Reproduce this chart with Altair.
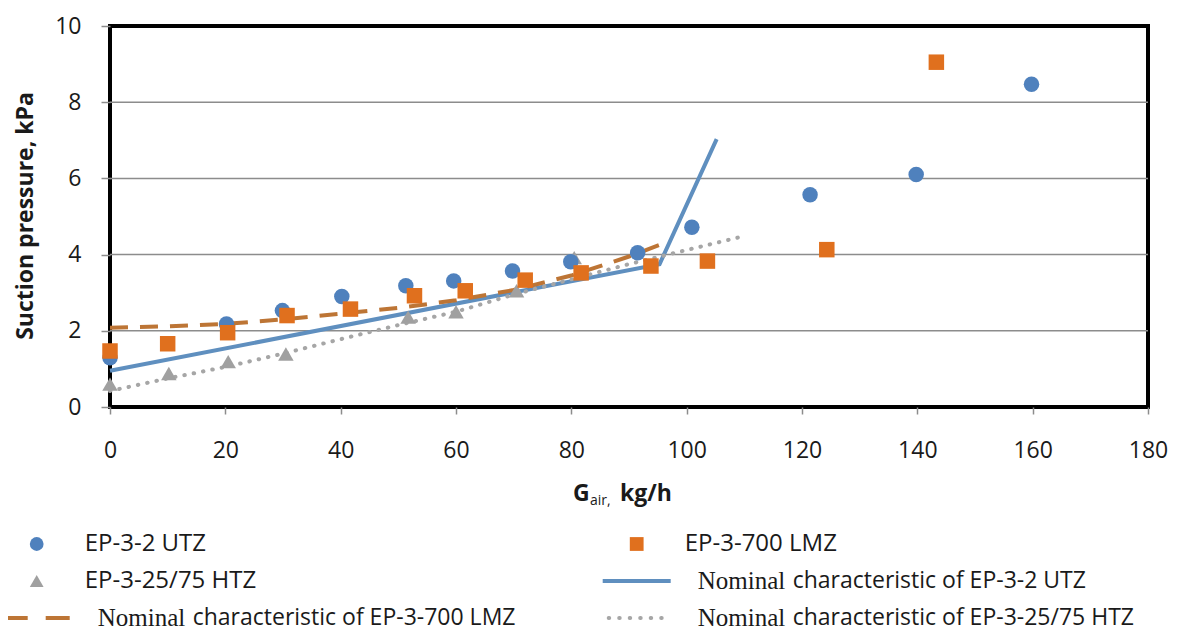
import altair as alt
import pandas as pd

# ---------------- values ----------------
# measured points
utz_x = [0, 20.2, 29.9, 40.2, 51.3, 59.6, 69.8, 79.9, 91.5, 100.9, 121.4, 139.8, 159.8]
utz_y = [1.29, 2.18, 2.53, 2.90, 3.18, 3.31, 3.57, 3.81, 4.05, 4.72, 5.57, 6.10, 8.47]

lmz_x = [0, 10.0, 20.4, 30.7, 41.7, 52.8, 61.6, 72.0, 81.7, 93.8, 103.6, 124.3, 143.3]
lmz_y = [1.47, 1.66, 1.95, 2.40, 2.57, 2.92, 3.05, 3.33, 3.52, 3.70, 3.83, 4.13, 9.05]

htz_x = [0, 10.2, 20.5, 30.5, 51.7, 60.0, 70.5, 80.5]
htz_y = [0.60, 0.88, 1.19, 1.39, 2.36, 2.50, 3.05, 3.92]

# nominal characteristics
nom_utz_x = [0, 95.3, 105.2]
nom_utz_y = [0.95, 3.75, 7.03]

nom_lmz_x = [0, 10, 20, 30, 40, 50, 60, 70, 80, 90, 97]
nom_lmz_y = [2.08, 2.12, 2.18, 2.30, 2.45, 2.60, 2.80, 3.07, 3.45, 3.95, 4.35]

nom_htz_x = [0, 10, 20, 30, 40, 50, 60, 70, 80, 90, 100, 109]
nom_htz_y = [0.42, 0.75, 1.05, 1.40, 1.78, 2.15, 2.50, 2.95, 3.35, 3.75, 4.12, 4.45]

series_names = [
    "EP-3-2 UTZ",
    "EP-3-700 LMZ",
    "EP-3-25/75 HTZ",
    "Nominal characteristic of EP-3-2 UTZ",
    "Nominal characteristic of EP-3-700 LMZ",
    "Nominal characteristic of EP-3-25/75 HTZ",
]
series_colors = ["#4f81bd", "#e0701e", "#a0a0a0", "#5f8fbf", "#bd7535", "#a6a6a6"]
series_shapes = ["circle", "square", "triangle-up", "stroke", "stroke", "stroke"]
series_kind = ["point", "point", "point", "line", "line", "line"]

# legend grid (column / row of every entry)
legend_col = [0, 1, 0, 1, 0, 1]
legend_row = [0, 0, 1, 1, 2, 2]

x_ticks = [0, 20, 40, 60, 80, 100, 120, 140, 160, 180]
y_ticks = [0, 2, 4, 6, 8, 10]
grid_values = [2, 4, 6, 8]

# ---------------- tables ----------------
def table(name, xs, ys):
    return pd.DataFrame({"series": name, "x": xs, "y": ys})

points_df = pd.concat([
    table(series_names[2], htz_x, htz_y),
    table(series_names[0], utz_x, utz_y),
    table(series_names[1], lmz_x, lmz_y),
], ignore_index=True)

lines_df = pd.concat([
    table(series_names[3], nom_utz_x, nom_utz_y),
    table(series_names[4], nom_lmz_x, nom_lmz_y),
    table(series_names[5], nom_htz_x, nom_htz_y),
], ignore_index=True)

legend_df = pd.DataFrame({
    "series": series_names,
    "col": legend_col,
    "row": legend_row,
    "kind": series_kind,
})

FONT = "Open Sans"
TXT = "#1a1a1a"

color_scale = alt.Scale(domain=series_names, range=series_colors)
shape_scale = alt.Scale(domain=series_names, range=series_shapes)
x_scale = alt.Scale(domain=[0, 180], nice=False, zero=False)
y_scale = alt.Scale(domain=[0, 10], nice=False)

x_axis = alt.Axis(values=x_ticks, title=None, grid=False, domain=False, tickSize=7,
                  labelPadding=25, labelFlush=False, format="d")
y_axis = alt.Axis(values=y_ticks, title=None, grid=False, domain=False, tickSize=9,
                  labelPadding=20, labelFlush=False, format="d")

X = alt.X("x:Q", scale=x_scale, axis=x_axis)
Y = alt.Y("y:Q", scale=y_scale, axis=y_axis)
C = alt.Color("series:N", scale=color_scale, legend=None)

# ---------------- main plot ----------------
grid = alt.Chart(pd.DataFrame({"y": grid_values})).mark_rule(
    color="#8c8c8c", strokeWidth=1.5
).encode(y=Y)

line_utz = alt.Chart(lines_df).transform_filter(
    alt.datum.series == series_names[3]
).mark_line(strokeWidth=4, strokeCap="butt").encode(x=X, y=Y, color=C)

line_lmz = alt.Chart(lines_df).transform_filter(
    alt.datum.series == series_names[4]
).mark_line(strokeWidth=4, strokeDash=[18, 12], strokeCap="butt").encode(x=X, y=Y, color=C)

line_htz = alt.Chart(lines_df).transform_filter(
    alt.datum.series == series_names[5]
).mark_line(strokeWidth=4, strokeDash=[0.5, 9], strokeCap="round").encode(x=X, y=Y, color=C)

points = alt.Chart(points_df).mark_point(filled=True, size=240, opacity=1).encode(
    x=X, y=Y, color=C, shape=alt.Shape("series:N", scale=shape_scale, legend=None)
)

one = pd.DataFrame({"a": [0]})
y_title = alt.Chart(one).mark_text(
    text="Suction pressure, kPa", angle=270, font=FONT, fontSize=23, fontWeight="bold",
    align="center", baseline="middle", color=TXT
).encode(x=alt.value(-84), y=alt.value(190))

x_title_g = alt.Chart(one).mark_text(
    text="G", font=FONT, fontSize=23, fontWeight="bold", align="left",
    baseline="alphabetic", color=TXT
).encode(x=alt.value(463), y=alt.value(475))
x_title_sub = alt.Chart(one).mark_text(
    text="air,", font=FONT, fontSize=14, align="left", baseline="alphabetic", color=TXT
).encode(x=alt.value(480), y=alt.value(479))
x_title_unit = alt.Chart(one).mark_text(
    text="kg/h", font=FONT, fontSize=23, fontWeight="bold", align="left",
    baseline="alphabetic", color=TXT
).encode(x=alt.value(510), y=alt.value(475))

main = alt.layer(grid, line_utz, line_lmz, line_htz, points,
                 y_title, x_title_g, x_title_sub, x_title_unit)

# ---------------- legend (below the plot) ----------------
LX = alt.X("col:Q", scale=alt.Scale(domain=[0, 1], range=[-73.3, 526.7], nice=False, zero=False), axis=None)
LY = alt.Y("row:Q", scale=alt.Scale(domain=[0, 2], range=[518, 592], nice=False, zero=False), axis=None)

leg = alt.Chart(legend_df)

leg_pts = leg.transform_filter(alt.datum.kind == "point").mark_point(
    filled=True, size=190, opacity=1
).encode(x=LX, y=LY, color=C, shape=alt.Shape("series:N", scale=shape_scale, legend=None))

leg_l1 = leg.transform_filter(alt.datum.series == series_names[3]).mark_point(
    shape="stroke", size=68 * 68, filled=False, opacity=1, strokeWidth=4
).encode(x=LX, y=LY, color=C)
leg_l2 = leg.transform_filter(alt.datum.series == series_names[4]).mark_point(
    shape="stroke", size=66 * 66, filled=False, opacity=1, strokeWidth=4, strokeDash=[24, 18]
).encode(x=LX, y=LY, color=C)
leg_l3 = leg.transform_filter(alt.datum.series == series_names[5]).mark_point(
    shape="stroke", size=56 * 56, filled=False, opacity=1, strokeWidth=4,
    strokeDash=[0.5, 10], strokeCap="round"
).encode(x=LX, y=LY, color=C)

leg_txt_pts = leg.transform_filter(alt.datum.kind == "point").mark_text(
    align="left", baseline="middle", dx=48, font=FONT, fontSize=24, color=TXT
).encode(x=LX, y=LY, text="series:N")

leg_txt_nom = leg.transform_filter(alt.datum.kind == "line").mark_text(
    align="left", baseline="middle", dx=61, font="Liberation Serif", fontSize=25, color=TXT
).encode(x=LX, y=LY, text=alt.value("Nominal"))

leg_txt_rest = leg.transform_filter(alt.datum.kind == "line").transform_calculate(
    rest="replace(datum.series, 'Nominal ', '')"
).mark_text(
    align="left", baseline="middle", dx=156, font=FONT, fontSize=23, color=TXT
).encode(x=LX, y=LY, text="rest:N")

legend = alt.layer(leg_l1, leg_l2, leg_l3, leg_pts, leg_txt_pts, leg_txt_nom, leg_txt_rest)

chart = alt.layer(main, legend).resolve_scale(
    x="independent", y="independent"
).properties(
    width=1038, height=381,
    padding={"left": 102, "top": 18, "right": 46, "bottom": 225},
    autosize=alt.AutoSizeParams(type="none"),
).configure_view(
    stroke="black", strokeWidth=4
).configure_axis(
    labelFont=FONT, labelFontSize=23, labelColor=TXT,
    tickColor="#8c8c8c", tickWidth=1.5
)

chart.save("out.html", embed_options={"renderer": "svg", "actions": False})
